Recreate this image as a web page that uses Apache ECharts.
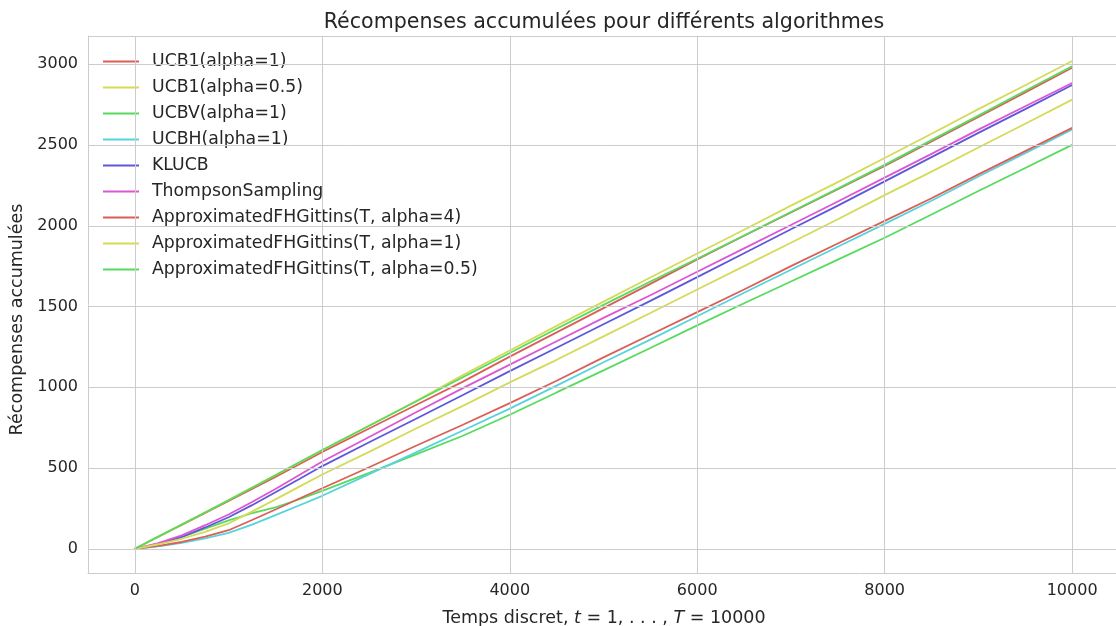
<!DOCTYPE html>
<html>
<head>
<meta charset="utf-8">
<script src="https://cdn.jsdelivr.net/npm/echarts@6/dist/echarts.min.js"></script>
<style>
  html, body { margin: 0; padding: 0; background: #ffffff; overflow: hidden; }
  #chart { width: 1116px; height: 626px; }
</style>
</head>
<body>
<div id="chart"></div>
<script>
// Time steps at which the cumulated rewards are sampled
const steps = [0, 250, 500, 750, 1000, 1250, 1500, 1750, 2000, 2500, 3000, 3500, 4000, 4500,
               5000, 5500, 6000, 6500, 7000, 7500, 8000, 8500, 9000, 9500, 10000];

// Cumulated rewards of each algorithm
const ucb1Alpha1   = [0, 74, 148, 222, 296, 370, 445, 522, 600, 745, 890, 1035, 1190, 1340, 1490, 1640, 1792, 1938, 2082, 2226, 2370, 2522, 2674, 2826, 2978];
const ucb1Alpha05  = [0, 75, 150, 226, 302, 379, 456, 533, 610, 762, 915, 1075, 1228, 1380, 1530, 1680, 1828, 1975, 2125, 2270, 2420, 2570, 2722, 2870, 3020];
const ucbvAlpha1   = [0, 30, 72, 125, 176, 220, 257, 305, 358, 470, 585, 700, 830, 968, 1105, 1243, 1383, 1520, 1655, 1790, 1926, 2070, 2215, 2358, 2501];
const ucbhAlpha1   = [0, 15, 37, 65, 98, 150, 208, 268, 328, 462, 597, 732, 868, 1010, 1155, 1295, 1440, 1585, 1728, 1870, 2012, 2155, 2305, 2450, 2596];
const klucb        = [0, 30, 73, 132, 195, 270, 350, 430, 512, 660, 805, 952, 1100, 1245, 1390, 1535, 1682, 1830, 1978, 2125, 2275, 2425, 2575, 2722, 2872];
const thompson     = [0, 35, 83, 146, 212, 290, 370, 455, 540, 692, 845, 995, 1140, 1285, 1430, 1570, 1715, 1860, 2005, 2150, 2298, 2445, 2595, 2740, 2884];
const afhgAlpha4   = [0, 18, 42, 75, 115, 178, 243, 310, 375, 505, 638, 768, 902, 1040, 1185, 1325, 1465, 1605, 1750, 1890, 2030, 2170, 2318, 2462, 2606];
const afhgAlpha1   = [0, 28, 62, 105, 157, 230, 306, 383, 460, 600, 745, 885, 1030, 1170, 1315, 1460, 1605, 1750, 1895, 2040, 2190, 2335, 2485, 2632, 2781];
const afhgAlpha05  = [0, 75, 150, 225, 300, 378, 455, 534, 612, 762, 912, 1062, 1212, 1362, 1510, 1655, 1796, 1940, 2085, 2230, 2377, 2530, 2682, 2836, 2988];

const seriesNames = [
  'UCB1(alpha=1)', 'UCB1(alpha=0.5)', 'UCBV(alpha=1)', 'UCBH(alpha=1)', 'KLUCB',
  'ThompsonSampling', 'ApproximatedFHGittins(T, alpha=4)',
  'ApproximatedFHGittins(T, alpha=1)', 'ApproximatedFHGittins(T, alpha=0.5)'
];
const seriesValues = [ucb1Alpha1, ucb1Alpha05, ucbvAlpha1, ucbhAlpha1, klucb,
                      thompson, afhgAlpha4, afhgAlpha1, afhgAlpha05];

// Gridline / tick label positions
const xTicks = [0, 2000, 4000, 6000, 8000, 10000];
const yTicks = [0, 500, 1000, 1500, 2000, 2500, 3000];

// hls palette, six hues cycled
const palette = ['#db5f57', '#d3db57', '#57db5f', '#57d3db', '#5f57db', '#db57d3'];

const FONT = 'DejaVu Sans';
const TEXT = '#262626';
const GRID = '#cccccc';
// the frame runs on past the right edge of the page
const X_RANGE = [-500, 10596];
const Y_RANGE = [-150, 3175];

const chart = echarts.init(document.getElementById('chart'), null, { renderer: 'canvas' });

// light grey gridlines plus the upper edge of the frame
const gridLines = {
  type: 'line',
  data: [],
  silent: true,
  z: 1,
  markLine: {
    silent: true,
    animation: false,
    symbol: ['none', 'none'],
    label: { show: false },
    emphasis: { disabled: true },
    lineStyle: { color: GRID, width: 1, type: 'solid' },
    data: [
      ...xTicks.map(v => ({ xAxis: v })),
      ...yTicks.map(v => ({ yAxis: v })),
      { yAxis: Y_RANGE[1] }
    ]
  }
};

const lines = seriesNames.map((name, i) => ({
  name: name,
  type: 'line',
  data: steps.map((t, k) => [t, seriesValues[i][k]]),
  showSymbol: false,
  symbol: 'none',
  z: 3,
  lineStyle: { width: 1.8, color: palette[i % palette.length] },
  itemStyle: { color: palette[i % palette.length] },
  emphasis: { disabled: true },
  animation: false
}));

const frameLine = { show: true, onZero: false, lineStyle: { color: GRID, width: 1 } };

chart.setOption({
  backgroundColor: '#ffffff',
  animation: false,
  title: {
    text: 'Récompenses accumulées pour différents algorithmes',
    left: 604,
    textAlign: 'center',
    top: 12,
    padding: 0,
    textStyle: { fontFamily: FONT, fontSize: 20.6, fontWeight: 'normal', color: TEXT }
  },
  legend: {
    orient: 'vertical',
    left: 103,
    top: 53,
    padding: 0,
    icon: 'rect',
    itemWidth: 36,
    itemHeight: 1.8,
    itemGap: 9,
    data: seriesNames,
    textStyle: { fontFamily: FONT, fontSize: 17.3, color: TEXT, lineHeight: 17, padding: [0, 0, 0, 8] }
  },
  grid: {
    left: 88,
    top: 36,
    width: 1040,
    height: 537,
    outerBoundsMode: 'none',
    containLabel: false,
    show: false
  },
  xAxis: {
    type: 'value',
    min: X_RANGE[0],
    max: X_RANGE[1],
    interval: 500,
    // centred under the frame, which spans -500 .. 10500
    name: 'Temps discret, {i|t} = 1, . . . , {i|T} = 10000',
    nameLocation: 'start',
    nameGap: -516,
    nameTextStyle: {
      fontFamily: FONT, fontSize: 17.5, color: TEXT,
      align: 'center', verticalAlign: 'top',
      padding: [36, 0, 0, 0],
      rich: { i: { fontFamily: FONT, fontSize: 17.5, fontStyle: 'italic', color: TEXT } }
    },
    axisLine: frameLine,
    axisTick: { show: false },
    splitLine: { show: false },
    axisLabel: {
      margin: 10,
      fontFamily: FONT, fontSize: 16, color: TEXT,
      formatter: v => (xTicks.indexOf(v) >= 0 ? String(v) : '')
    }
  },
  yAxis: {
    type: 'value',
    min: Y_RANGE[0],
    max: Y_RANGE[1],
    interval: 25,
    name: 'Récompenses accumulées',
    nameLocation: 'middle',
    nameGap: 60,
    nameTextStyle: { fontFamily: FONT, fontSize: 17.5, color: TEXT, padding: [0, 30, 0, 0] },
    axisLine: frameLine,
    axisTick: { show: false },
    splitLine: { show: false },
    axisLabel: {
      margin: 10,
      fontFamily: FONT, fontSize: 16, color: TEXT,
      formatter: v => (yTicks.indexOf(v) >= 0 ? String(v) : '')
    }
  },
  series: [gridLines, ...lines]
});
</script>
</body>
</html>
